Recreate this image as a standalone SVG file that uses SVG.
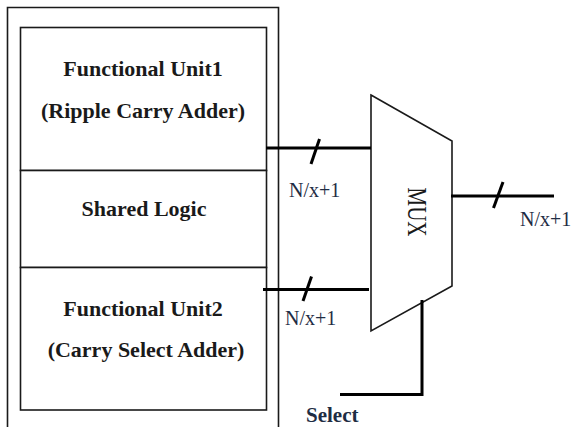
<svg xmlns="http://www.w3.org/2000/svg" width="574" height="427" viewBox="0 0 574 427">
  <style>
    .frame { fill: none; stroke: #1a1a1a; stroke-width: 1.6; }
    .unit { fill: #ffffff; stroke: #1a1a1a; stroke-width: 1.6; }
    .title { font-family: "Liberation Serif", "Times New Roman", serif; font-weight: bold; font-size: 22px; fill: #1a1a1a; text-anchor: middle; }
    .bus { fill: none; stroke: #000000; stroke-width: 3; }
    .tick { fill: none; stroke: #000000; stroke-width: 3; }
    .width { font-family: "Liberation Serif", "Times New Roman", serif; font-size: 20px; fill: #1f2d44; }
    .mux { fill: #ffffff; stroke: #1a1a1a; stroke-width: 1.6; stroke-linejoin: miter; }
  </style>
  <rect width="574" height="427" fill="#ffffff"/>

  <!-- outer enclosure, open at the bottom edge -->
  <g id="enclosure">
    <path class="frame" d="M7.5,430 V7.5 H278.5 V430"/>
  </g>

  <!-- stacked blocks inside the enclosure -->
  <g id="unit1">
    <rect class="unit" x="20.5" y="27.5" width="246" height="143"/>
    <text class="title" x="143" y="76">Functional Unit1</text>
    <text class="title" x="143" y="118">(Ripple Carry Adder)</text>
  </g>
  <g id="shared">
    <rect class="unit" x="20.5" y="170.5" width="246" height="97"/>
    <text class="title" x="144" y="216">Shared Logic</text>
  </g>
  <g id="unit2">
    <rect class="unit" x="20.5" y="267.5" width="246" height="142.5"/>
    <text class="title" x="143" y="316">Functional Unit2</text>
    <text class="title" x="146" y="357">(Carry Select Adder)</text>
  </g>

  <!-- multiplexer -->
  <g id="mux">
    <polygon class="mux" points="371,95 452,141 452,286 371,331"/>
    <text transform="translate(408,212) rotate(90) scale(1,1.3)" font-family="Liberation Serif, Times New Roman, serif" font-size="21" fill="#1a1a1a" text-anchor="middle">MUX</text>
  </g>

  <!-- buses with width ticks -->
  <g id="connectors">
    <line class="bus" x1="266" y1="148" x2="371" y2="148"/>
    <line class="tick" x1="311" y1="164" x2="319.5" y2="139"/>
    <line class="bus" x1="263" y1="289.5" x2="369" y2="289.5"/>
    <line class="tick" x1="303" y1="301" x2="311.5" y2="276.5"/>
    <line class="bus" x1="451" y1="196" x2="554" y2="196"/>
    <line class="tick" x1="493.5" y1="208" x2="503" y2="182"/>
    <polyline class="bus" points="422,300 422,394.5 340,394.5"/>
  </g>

  <g id="labels">
    <text class="width" x="289" y="197">N/x+1</text>
    <text class="width" x="285" y="325">N/x+1</text>
    <text class="width" x="520" y="226">N/x+1</text>
    <text x="306" y="422" font-family="Liberation Serif, Times New Roman, serif" font-weight="bold" font-size="21" fill="#1f2d44">Select</text>
  </g>
</svg>
